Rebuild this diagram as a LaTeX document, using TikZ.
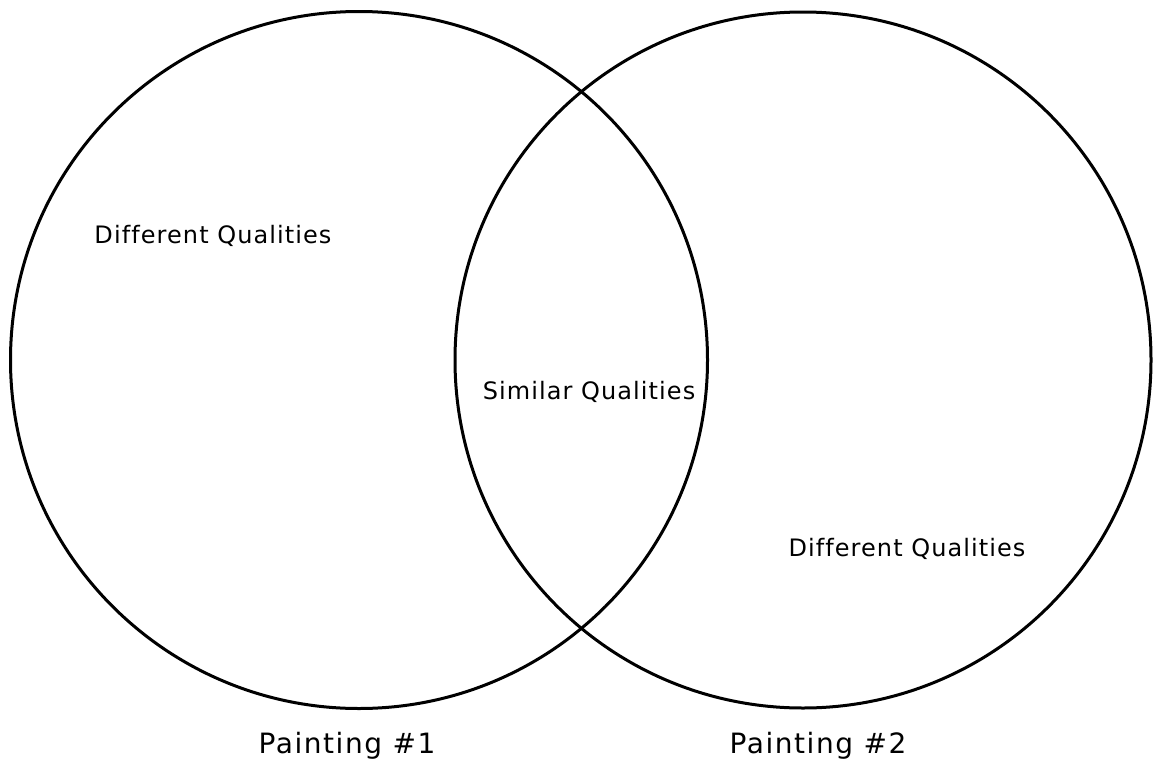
\documentclass[tikz,border=0pt]{standalone}
\usepackage{fontspec}
\setmainfont[Ligatures={NoCommon}]{DejaVu Sans}
\begin{document}
\begin{tikzpicture}[x=1pt,y=-1pt,
  ring/.style={draw=black,line width=3pt},
  lbl/.style={font=\fontsize{24}{28}\selectfont\addfontfeature{LetterSpace=4.5},inner sep=0pt},
  title/.style={font=\fontsize{28}{32}\selectfont\addfontfeature{LetterSpace=5.5},inner sep=0pt}]
\useasboundingbox (0,0) rectangle (1153,771);
\fill[white] (0,0) rectangle (1153,771);
\node[ring,circle,minimum size=697pt,inner sep=0pt] (c1) at (359,360) {};
\node[ring,circle,minimum size=696pt,inner sep=0pt] (c2) at (803,360) {};
\node[lbl] (d1) at (213,236) {Dif{}ferent Qualities};
\node[lbl] (s) at (589,392) {Similar Qualities};
\node[lbl] (d2) at (907,549) {Dif{}ferent Qualities};
\node[title] (p1) at (347,746) {Painting \#1};
\node[title] (p2) at (818,746) {Painting \#2};
\end{tikzpicture}
\end{document}
